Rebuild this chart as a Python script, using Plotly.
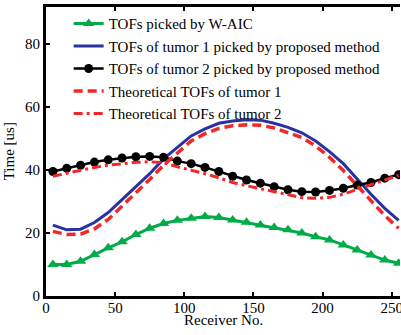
import plotly.graph_objects as go

receivers = [5, 15, 25, 35, 45, 55, 65, 75, 85, 95, 105, 115, 125, 135, 145,
             155, 165, 175, 185, 195, 205, 215, 225, 235, 245, 255]

waic = [10, 10, 11, 13.2, 15.3, 17.2, 19.5, 21.5, 23, 24, 24.7, 25.2, 24.9, 24.1,
        23.4, 22.5, 21.7, 21, 20, 18.8, 17.8, 16.2, 14.6, 13, 11.4, 10.4]

tumor1_prop = [22.5, 21, 21.2, 23.3, 26.5, 30.5, 34.5, 38.8, 43.5, 47.3, 50.8, 53,
               54.8, 55.5, 55.9, 55.8, 54.8, 53.5, 51.8, 49.2, 45.8, 42, 37, 32.3,
               27.8, 24]

tumor2_prop = [39.5, 40.5, 41.5, 42.5, 43.2, 43.8, 44.2, 44.3, 44, 42.8, 42, 40.8,
               39.5, 38, 36.8, 35.8, 34.7, 33.7, 33.1, 33, 33.5, 34.2, 35.2, 36,
               37.4, 38.5]

tumor1_theory = [20.5, 19.5, 19.6, 21.3, 24.3, 28.5, 32.5, 37, 41.5, 45.5, 49.2,
                 51.5, 53.2, 54, 54.3, 54.2, 53.3, 51.8, 50.3, 47.6, 44, 39.8, 35,
                 30, 25.5, 21.5]

tumor2_theory = [38, 39, 40, 40.8, 41.5, 42, 42.4, 42.6, 42.3, 41, 40, 38.8, 37.5,
                 36, 35, 34, 33, 32, 31.2, 31, 31.3, 32.3, 33.8, 35.3, 36.8, 38.3]

x_ticks = [0, 50, 100, 150, 200, 250]
y_ticks = [0, 20, 40, 60, 80]

names = ["TOFs picked by W-AIC",
         "TOFs of tumor 1 picked by proposed method",
         "TOFs of tumor 2 picked by proposed method",
         "Theoretical TOFs of tumor 1",
         "Theoretical TOFs of tumor 2"]

GREEN = "rgb(0,172,72)"
BLUE = "rgb(40,50,160)"
RED = "rgb(240,40,40)"
FONT = "Times New Roman, Liberation Serif, serif"

fig = go.Figure()
fig.add_trace(go.Scatter(x=receivers, y=waic, name=names[0], mode="lines+markers",
                         line=dict(color=GREEN, width=3),
                         marker=dict(symbol="triangle-up", size=10, color=GREEN)))
fig.add_trace(go.Scatter(x=receivers, y=tumor1_prop, name=names[1], mode="lines",
                         line=dict(color=BLUE, width=3)))
fig.add_trace(go.Scatter(x=receivers, y=tumor2_prop, name=names[2], mode="lines+markers",
                         line=dict(color="black", width=2.5),
                         marker=dict(symbol="circle", size=9, color="black")))
fig.add_trace(go.Scatter(x=receivers, y=tumor1_theory, name=names[3], mode="lines",
                         line=dict(color=RED, width=3.5, dash="9px,5px")))
fig.add_trace(go.Scatter(x=receivers, y=tumor2_theory, name=names[4], mode="lines",
                         line=dict(color=RED, width=3, dash="9px,4px,3px,4px")))

fig.update_layout(
    width=401, height=335,
    margin=dict(l=46, r=1, t=7, b=39, autoexpand=False),
    paper_bgcolor="white", plot_bgcolor="white",
    font=dict(family=FONT, size=15, color="black"),
    showlegend=True,
    legend=dict(x=0.064, y=0.999, xanchor="left", yanchor="top",
                bgcolor="rgba(0,0,0,0)", font=dict(family=FONT, size=15),
                tracegroupgap=0, itemwidth=30),
    xaxis=dict(range=[0, 256], tickvals=x_ticks, ticks="inside", ticklen=4,
               tickwidth=2, tickcolor="black", showline=True, linewidth=3,
               linecolor="black", mirror="ticks", showgrid=False, zeroline=False,
               automargin=False, ticklabeloverflow="allow", ticklabelstandoff=-4,
               tickfont=dict(family=FONT, size=15)),
    yaxis=dict(range=[0, 91.7], tickvals=y_ticks, ticks="inside", ticklen=4,
               tickwidth=2, tickcolor="black", showline=True, linewidth=3,
               linecolor="black", mirror=False, showgrid=False, zeroline=False,
               automargin=False, tickfont=dict(family=FONT, size=15)),
    annotations=[
        dict(text="Receiver No.", xref="paper", yref="paper", x=0.5, y=-0.05,
             xanchor="center", yanchor="top", showarrow=False,
             font=dict(family=FONT, size=15)),
        dict(text="Time [us]", xref="paper", yref="paper", x=-0.105, y=0.5,
             xanchor="center", yanchor="middle", textangle=-90, showarrow=False,
             font=dict(family=FONT, size=15)),
    ],
)

fig.write_html("out.html", config={"displayModeBar": False},
               post_script="document.body.style.margin='0px';")
